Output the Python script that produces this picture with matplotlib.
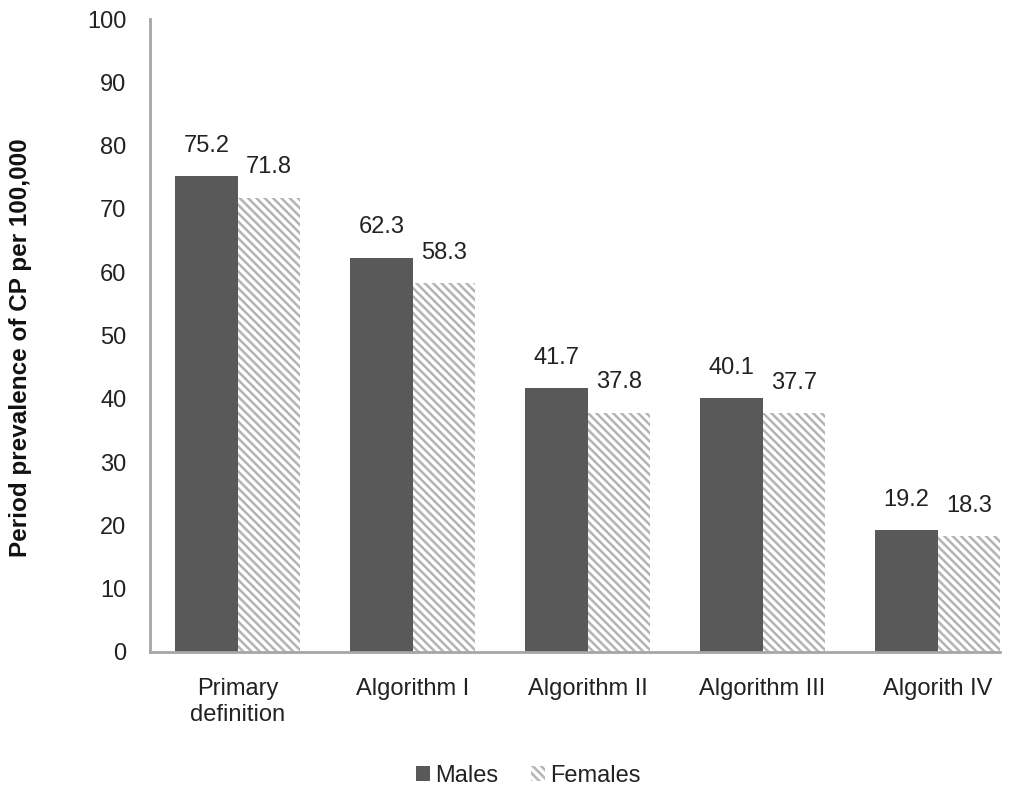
import matplotlib
matplotlib.use("Agg")
from matplotlib import pyplot as plt
import numpy as np

categories = ['Primary\ndefinition', 'Algorithm I', 'Algorithm II',
              'Algorithm III', 'Algorith IV']
males = [75.2, 62.3, 41.7, 40.1, 19.2]
females = [71.8, 58.3, 37.8, 37.7, 18.3]

plt.rcParams['font.family'] = ['Liberation Sans', 'DejaVu Sans']
plt.rcParams['hatch.linewidth'] = 1.8
plt.rcParams['hatch.color'] = '#b4b4b4'

fig = plt.figure(figsize=(10.19, 7.92), dpi=100)
ax = fig.add_axes([150/1019, 140/792, 850/1019, 633/792])

x = np.arange(len(categories))
w = 0.357
fs = 17
text_kw = dict(fontsize=fs, color='#222222')

b_m = ax.bar(x - w/2, males, w, color='#595959', label='Males')
b_f = ax.bar(x + w/2, females, w, color='white', hatch='\\\\\\\\',
             edgecolor='#b4b4b4', linewidth=0, label='Females')

# value labels above each bar
for bars, vals in ((b_m, males), (b_f, females)):
    for rect, val in zip(bars, vals):
        ax.annotate(f'{val}', (rect.get_x() + rect.get_width()/2, val),
                    xytext=(0, 14), textcoords='offset points',
                    ha='center', va='bottom', **text_kw)

ax.set_xlim(-0.5, 4.357)
ax.set_ylim(0, 100)
ax.set_yticks(range(0, 101, 10))
ax.set_xticks(x)
ax.set_xticklabels(categories, **text_kw)
ax.tick_params(length=0, labelsize=fs, labelcolor='#222222')
ax.tick_params(axis='x', pad=19)
ax.tick_params(axis='y', pad=17)

for s in ['top', 'right']:
    ax.spines[s].set_visible(False)
for s in ['left', 'bottom']:
    ax.spines[s].set_color('#a6a6a6')
    ax.spines[s].set_linewidth(2)

ax.set_ylabel('Period prevalence of CP per 100,000', fontsize=17.5,
              fontweight='bold', color='#111111')
ax.yaxis.set_label_coords(-118/850, 0.48)

fig.legend(handles=[b_m, b_f], loc='center', bbox_to_anchor=(528/1019, 1 - 776/792),
           ncol=2, frameon=False, fontsize=fs, handlelength=0.6, handleheight=0.6,
           handletextpad=0.2, columnspacing=1.4, labelcolor='#222222')

fig.savefig('out.png', dpi=100)
